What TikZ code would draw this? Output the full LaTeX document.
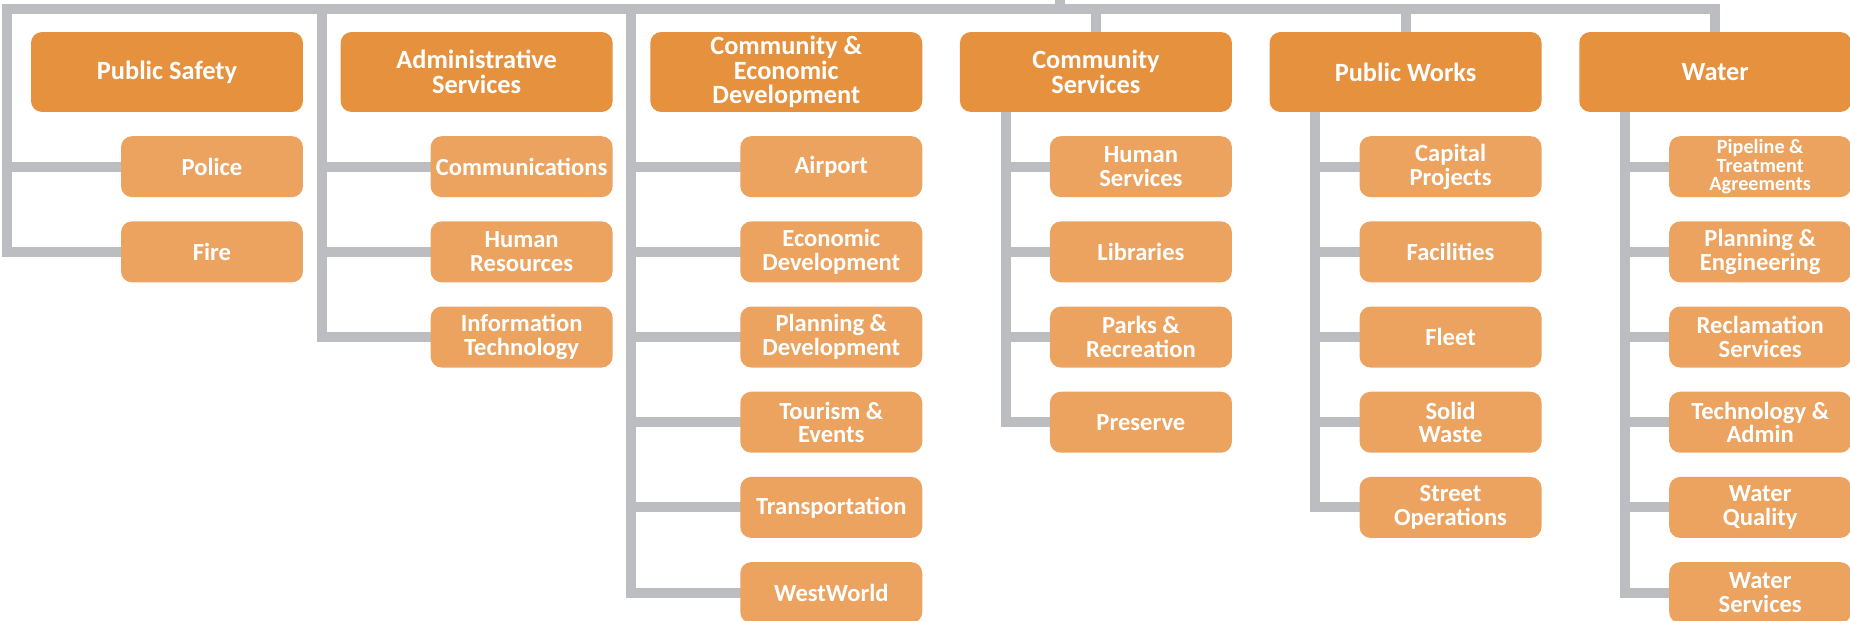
\documentclass[tikz,border=0pt]{standalone}
\usepackage{fontspec}
\setmainfont{Carlito}
\usetikzlibrary{positioning,backgrounds}
\definecolor{deptfill}{RGB}{229,145,62}
\definecolor{unitfill}{RGB}{235,163,95}
\definecolor{linkgray}{RGB}{188,189,192}

\begin{document}
\begin{tikzpicture}[x=0.02cm,y=-0.02cm,node distance=0.47cm and 0.74cm,
    dept/.style={rectangle,rounded corners=0.22cm,fill=deptfill,text=white,align=center,
      minimum width=5.44cm,minimum height=1.6cm,inner sep=1pt,
      font=\bfseries\fontsize{15}{14}\selectfont},
    unit/.style={rectangle,rounded corners=0.22cm,fill=unitfill,text=white,align=center,
      minimum width=3.64cm,minimum height=1.22cm,inner sep=1pt,
      font=\bfseries\fontsize{14}{13.4}\selectfont},
    link/.style={draw=linkgray,line width=0.2cm,line cap=rect}]
      \useasboundingbox (0,0) rectangle (1850,621);

      \node[dept] (safety) at (167,72) {Public Safety};
      \node[dept] (admin) [right=of safety] {Administrative\\Services};
      \node[dept] (ced) [right=of admin] {Community \&\\Economic\\Development};
      \node[dept] (comm) [right=of ced] {Community\\Services};
      \node[dept] (works) [right=of comm] {Public Works};
      \node[dept] (water) [right=of works] {Water};

      \node[unit] (police) [below=of safety.south east,anchor=north east] {Police};
      \node[unit] (fire) [below=of police] {Fire};

      \node[unit] (communications) [below=of admin.south east,anchor=north east] {Communications};
      \node[unit] (hr) [below=of communications] {Human\\Resources};
      \node[unit] (it) [below=of hr] {Information\\Technology};

      \node[unit] (airport) [below=of ced.south east,anchor=north east] {Airport};
      \node[unit] (econ) [below=of airport] {Economic\\Development};
      \node[unit] (planning) [below=of econ] {Planning \&\\Development};
      \node[unit] (tourism) [below=of planning] {Tourism \&\\Events};
      \node[unit] (transport) [below=of tourism] {Transportation};
      \node[unit] (westworld) [below=of transport] {WestWorld};

      \node[unit] (humansvc) [below=of comm.south east,anchor=north east] {Human\\Services};
      \node[unit] (libraries) [below=of humansvc] {Libraries};
      \node[unit] (parks) [below=of libraries] {Parks \&\\Recreation};
      \node[unit] (preserve) [below=of parks] {Preserve};

      \node[unit] (capital) [below=of works.south east,anchor=north east] {Capital\\Projects};
      \node[unit] (facilities) [below=of capital] {Facilities};
      \node[unit] (fleet) [below=of facilities] {Fleet};
      \node[unit] (solid) [below=of fleet] {Solid\\Waste};
      \node[unit] (streets) [below=of solid] {Street\\Operations};

      \node[unit,font=\bfseries\fontsize{11.5}{10.6}\selectfont] (pipeline) [below=of water.south east,anchor=north east] {Pipeline \&\\Treatment\\Agreements};
      \node[unit] (engineering) [below=of pipeline] {Planning \&\\Engineering};
      \node[unit] (reclamation) [below=of engineering] {Reclamation\\Services};
      \node[unit] (tech) [below=of reclamation] {Technology \&\\Admin};
      \node[unit] (quality) [below=of tech] {Water\\Quality};
      \node[unit] (watersvc) [below=of quality] {Water\\Services};

      \coordinate (hub) at (1060,0);
      \coordinate (bar1) at (7,9);
      \coordinate (bar2) at (322,9);
      \coordinate (bar3) at (631,9);
      \coordinate (spine4) at ([xshift=0.92cm]comm.south west);
      \coordinate (spine5) at ([xshift=0.92cm]works.south west);
      \coordinate (spine6) at ([xshift=0.92cm]water.south west);

      \begin{scope}[on background layer]
        \draw[link,line cap=butt] (hub) -- (hub |- bar1);
        \draw[link] (bar1) -- (water.north |- bar1) -- (water.north);
        \draw[link] (comm.north) -- (comm.north |- bar1);
        \draw[link] (works.north) -- (works.north |- bar1);

        \draw[link] (bar1) |- (fire);
        \draw[link] (bar2) |- (it);
        \draw[link] (bar3) |- (westworld);
        \draw[link] (spine4) |- (preserve);
        \draw[link] (spine5) |- (streets);
        \draw[link] (spine6) |- (watersvc);

        \path[link] (police) edge (police -| bar1);
        \path[link] (communications) edge (communications -| bar2)
          (hr) edge (hr -| bar2);
        \path[link] (airport) edge (airport -| bar3)
          (econ) edge (econ -| bar3)
          (planning) edge (planning -| bar3)
          (tourism) edge (tourism -| bar3)
          (transport) edge (transport -| bar3);
        \path[link] (humansvc) edge (humansvc -| spine4)
          (libraries) edge (libraries -| spine4)
          (parks) edge (parks -| spine4);
        \path[link] (capital) edge (capital -| spine5)
          (facilities) edge (facilities -| spine5)
          (fleet) edge (fleet -| spine5)
          (solid) edge (solid -| spine5);
        \path[link] (pipeline) edge (pipeline -| spine6)
          (engineering) edge (engineering -| spine6)
          (reclamation) edge (reclamation -| spine6)
          (tech) edge (tech -| spine6)
          (quality) edge (quality -| spine6);
      \end{scope}
    \end{tikzpicture}
\end{document}
